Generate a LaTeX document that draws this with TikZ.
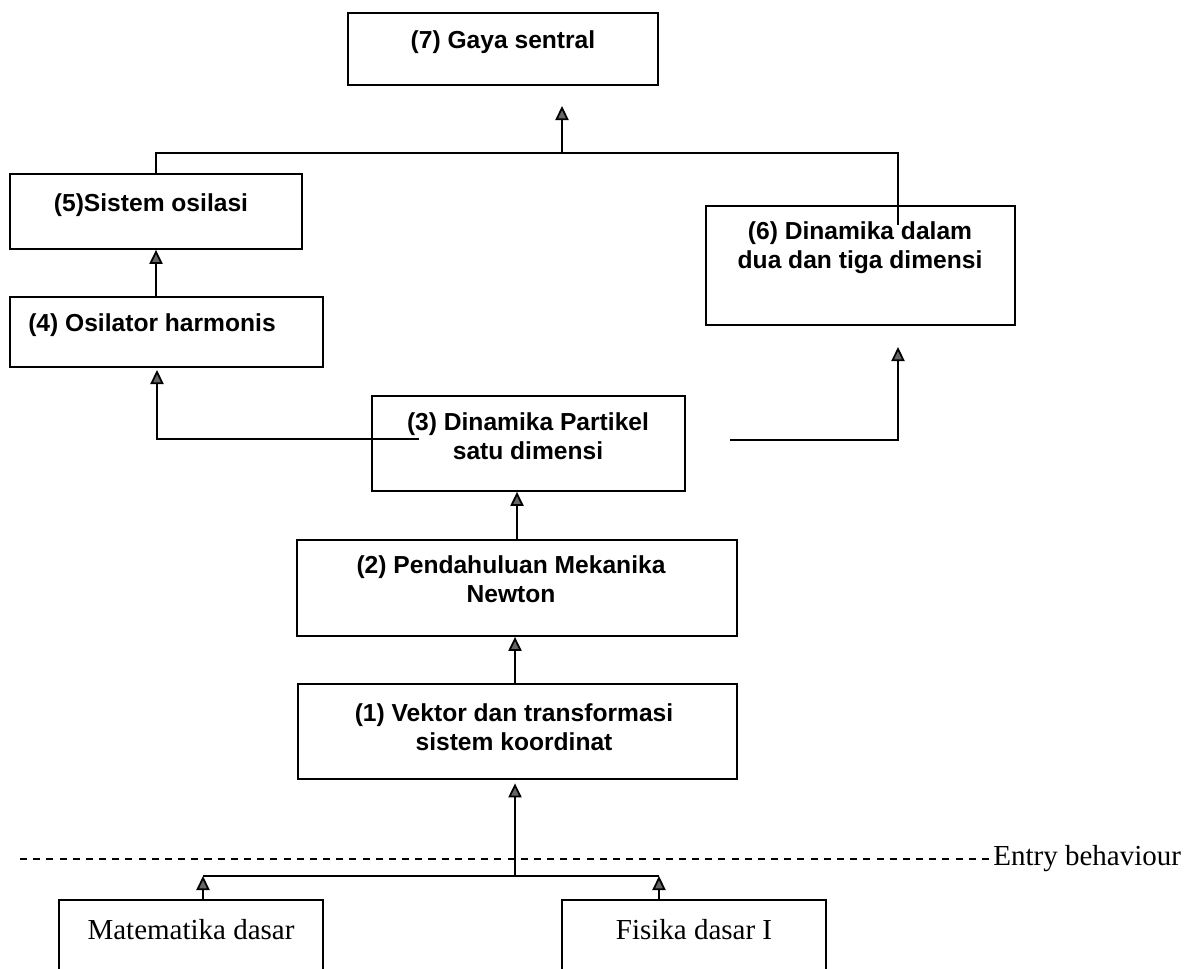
\documentclass[tikz,border=0pt]{standalone}
\usepackage{fontspec}
\setmainfont{Liberation Serif}
\newfontfamily\boxsans{Liberation Sans}
\usetikzlibrary{arrows.meta,positioning}
\tikzset{
  topic/.style={draw, line width=1pt, inner sep=0pt},
  topictext/.style={font=\boxsans\bfseries\fontsize{14}{16.5}\selectfont, align=center, inner sep=0pt},
  prereq/.style={draw, line width=1pt, inner sep=0pt, minimum width=5.28cm, minimum height=1.5cm},
  prereqtext/.style={font=\fontsize{16.5}{19}\selectfont, inner sep=0pt},
  link/.style={line width=1pt},
  arr/.style={link, -{Triangle[length=8pt,width=7.5pt,fill=black!60]}},
  entryline/.style={line width=1pt, dash pattern=on 4pt off 3.5pt}
}

\begin{document}
\begin{tikzpicture}[x=0.02cm, y=-0.02cm]
  \useasboundingbox (0,0) rectangle (1195,968);

  % topic boxes
  \node[topic, minimum width=6.2cm, minimum height=1.44cm] (g7) at (503,49) {};
  \node[topictext] (g7t) at (503,42) {(7) Gaya sentral};
  \node[topic, minimum width=5.84cm, minimum height=1.5cm] (s5) at (156,211.5) {};
  \node[topictext] (s5t) at (151,205) {(5)Sistem osilasi};
  \node[topic, minimum width=6.26cm, minimum height=1.4cm] (o4) at (166.5,332) {};
  \node[topictext] (o4t) at (152,325) {(4) Osilator harmonis};
  \node[topic, minimum width=6.18cm, minimum height=2.38cm] (d6) at (860.5,265.5) {};
  \node[topictext] (d6t) at (860,248) {(6) Dinamika dalam\\dua dan tiga dimensi};
  \node[topic, minimum width=6.26cm, minimum height=1.9cm] (d3) at (528.5,443.5) {};
  \node[topictext] (d3t) at (528,436) {(3) Dinamika Partikel\\satu dimensi};
  \node[topic, minimum width=8.8cm, minimum height=1.92cm] (p2) at (517,588) {};
  \node[topictext] (p2t) at (511,579) {(2) Pendahuluan Mekanika\\Newton};
  \node[topic, minimum width=8.78cm, minimum height=1.9cm] (v1) at (517.5,731.5) {};
  \node[topictext] (v1t) at (514,727) {(1) Vektor dan transformasi\\sistem koordinat};

  % entry behaviour
  \node[prereq] (mat) at (191,937.5) {};
  \node[prereqtext] (matt) at (191,930) {Matematika dasar};
  \node[prereq] (fis) at (694,937.5) {};
  \node[prereqtext] (fist) at (694,930) {Fisika dasar I};
  \node[prereqtext, anchor=west] (entry) at (993,859) {Entry behaviour};

  % free ends
  \coordinate (j7) at (562,153);
  \coordinate (t7) at (562,106);
  \coordinate (e6) at (898,225);
  \coordinate (t4) at (157,370);
  \coordinate (e3l) at (419,439);
  \coordinate (e3r) at (730,440);
  \coordinate (t6) at (898,347);
  \coordinate (jb) at (515,876);
  \coordinate (jbl) at (203,876);
  \coordinate (jbr) at (659,876);
  \coordinate (dl) at (20,859);

  % connectors
  \draw[arr] (j7) -- (t7);
  \draw[link] (s5.north) |- (j7) -| (e6);
  \draw[arr] (s5.south |- o4.north) -- (s5.south);
  \draw[arr] (e3l) -| (t4);
  \draw[arr] (e3r) -| (t6);
  \draw[arr] (p2.north) -- (p2.north |- d3.south);
  \draw[arr] (v1.north -| jb) -- (jb |- p2.south);
  \draw[arr, shorten >=2pt] (jb) -- (jb |- v1.south);
  \draw[link] (jbl) -- (jbr);
  \draw[arr] (jbl |- mat.north) -- (jbl);
  \draw[arr] (jbr |- fis.north) -- (jbr);
  \draw[entryline] (dl) -- (entry.west);
\end{tikzpicture}
\end{document}
